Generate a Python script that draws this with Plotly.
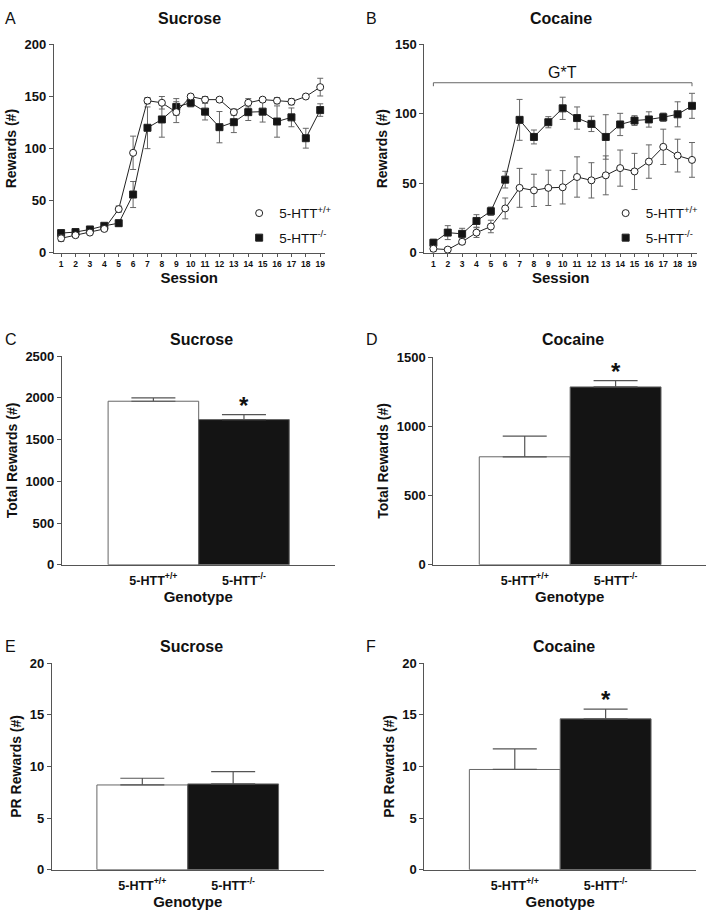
import plotly.graph_objects as go

W, H = 709, 917

sessions = list(range(1, 20))
suc_wt = [14, 17, 19.5, 23, 42, 96, 146, 144, 135, 150, 147, 147, 135, 144, 147, 146, 145, 150, 159]
suc_wt_err = [3, 2, 2, 2, 3, 16, 3, 6, 10, 2, 3, 2, 3, 4, 2, 3, 3, 2, 8.5]
suc_ko = [19, 20, 22.5, 26, 28.5, 56, 120, 128, 140, 144, 135.5, 120.6, 125.4, 135, 135.5, 126, 130, 110, 137]
suc_ko_err = [3, 2, 2, 2, 3, 12.5, 20, 17, 8, 4, 8, 15, 10, 8, 10, 15, 9, 9.5, 6]

coc_wt = [3, 2.4, 8, 14.6, 19, 32, 46.8, 45, 46.8, 47.2, 54.6, 52.2, 55.8, 61, 58.6, 65.7, 76.3, 70, 66.9]
coc_wt_err = [2, 1.5, 2, 3.5, 4.5, 7.5, 14, 11.6, 12.7, 12, 14.5, 12.7, 14, 13, 13, 12, 12.7, 11.8, 12.5]
coc_ko = [7.3, 14.6, 13.7, 23, 30, 52.7, 95.7, 83.4, 94, 104, 97, 92.8, 83.4, 92.4, 95.2, 96, 97.6, 99.7, 105.8]
coc_ko_err = [2.5, 5, 4, 4.5, 3, 6, 14.7, 5, 4, 8, 8, 5.5, 16, 8, 3.5, 5.5, 3, 9, 9]

genotypes = ["5-HTT<sup>+/+</sup>", "5-HTT<sup>-/-</sup>"]
tot_suc = [1960, 1740]
tot_suc_err = [40, 60]
tot_coc = [780, 1285]
tot_coc_err = [150, 45]
pr_suc = [8.2, 8.3]
pr_suc_err = [0.65, 1.2]
pr_coc = [9.7, 14.6]
pr_coc_err = [2.0, 0.95]
signif = {"C": [False, True], "D": [False, True], "E": [False, False], "F": [False, True]}

FONT = "Arial, Liberation Sans, sans-serif"
AX = "#555555"
DARK = "#222222"
BLACK = "#141414"

fig = go.Figure()


def dx(a, b):
    return [a / W, b / W]


def dy(top, bottom):
    return [1 - bottom / H, 1 - top / H]


def axis_common(**kw):
    d = dict(showgrid=False, zeroline=False, showline=True, linecolor=AX, linewidth=1,
             ticks="outside", tickcolor=AX, ticklen=4, tickwidth=1)
    d.update(kw)
    return d


layout = dict(width=W, height=H, paper_bgcolor="white", plot_bgcolor="white",
              margin=dict(l=0, r=0, t=0, b=0), showlegend=True,
              font=dict(family=FONT, color="#111111"))
annotations = []
shapes = []

# ---------- Line panels ----------
line_panels = [
    ("A", "Sucrose", 1, dx(54, 325), dy(38, 250), [0.5, 19.3], [0, 200], [0, 50, 100, 150, 200],
     suc_wt, suc_wt_err, suc_ko, suc_ko_err, "legend", (257, 207), 3),
    ("B", "Cocaine", 2, dx(425, 698), dy(38, 250), [0.375, 19.35], [0, 150], [0, 50, 100, 150],
     coc_wt, coc_wt_err, coc_ko, coc_ko_err, "legend2", (624, 207), 365),
]
for (letter, title, i, xd, yd, xr, yr, yt, wt, wte, ko, koe, leg, lpos, lx) in line_panels:
    xa = "x" if i == 1 else f"x{i}"
    ya = "y" if i == 1 else f"y{i}"
    for vals, errs, sym, col in [(ko, koe, "square", BLACK), (wt, wte, "circle", "white")]:
        fig.add_trace(go.Scatter(
            x=sessions, y=vals, mode="lines+markers", xaxis=xa, yaxis=ya, showlegend=False,
            line=dict(color=DARK, width=1),
            marker=dict(symbol=sym, size=7, color=col, line=dict(color=DARK, width=1)),
            error_y=dict(type="data", array=errs, color="#666666", thickness=1, width=3)))
    for g, (name, sym, col) in enumerate([(genotypes[0], "circle", "white"), (genotypes[1], "square", BLACK)]):
        fig.add_trace(go.Scatter(
            x=[None], y=[None], mode="markers", name=name, legend=leg, legendgroup=f"{leg}_{g}",
            xaxis=xa, yaxis=ya,
            marker=dict(symbol=sym, size=7, color=col, line=dict(color=DARK, width=1))))
    layout[leg] = dict(x=(lpos[0] - 17.5) / W, y=1 - (lpos[1] - 13) / H, xanchor="left", yanchor="top",
                       bgcolor="rgba(0,0,0,0)", font=dict(size=13.5, family=FONT, color="#111"),
                       itemsizing="trace", tracegroupgap=4, itemwidth=30)
    kx = "xaxis" if i == 1 else f"xaxis{i}"
    ky = "yaxis" if i == 1 else f"yaxis{i}"
    layout[kx] = axis_common(domain=xd, range=xr, anchor=ya, tickvals=sessions, ticklen=3,
                             tickfont=dict(size=8.5, family=FONT, color="#111", weight="bold"),
                             title=dict(text="<b>Session</b>", font=dict(size=15, family=FONT), standoff=2))
    layout[ky] = axis_common(domain=yd, range=yr, anchor=xa, tickvals=yt,
                             tickfont=dict(size=13, family=FONT, color="#111", weight="bold"),
                             title=dict(text="<b>Rewards (#)</b>", font=dict(size=14, family=FONT), standoff=4))
    annotations.append(dict(text=f"<b>{title}</b>", xref="paper", yref="paper",
                            x=(xd[0] + xd[1]) / 2, y=1 - 12 / H, xanchor="center", yanchor="middle",
                            showarrow=False, font=dict(size=16, family=FONT, color="#111")))
    annotations.append(dict(text=letter, xref="paper", yref="paper", x=lx / W, y=1 - 12 / H,
                            xanchor="left", yanchor="middle",
                            showarrow=False, font=dict(size=16, family=FONT, color="#111")))

# G*T bracket in panel B
gt_y = 122.4
shapes.append(dict(type="line", xref="x2", yref="y2", x0=sessions[0], x1=sessions[-1], y0=gt_y, y1=gt_y,
                   line=dict(color="#666", width=1)))
for sx in (sessions[0], sessions[-1]):
    shapes.append(dict(type="line", xref="x2", yref="y2", x0=sx, x1=sx, y0=gt_y, y1=gt_y - 2.5,
                       line=dict(color="#666", width=1)))
annotations.append(dict(text="G*T", xref="x2", yref="y2", x=10, y=gt_y, yanchor="bottom",
                        showarrow=False, font=dict(size=16, family=FONT, color="#111"), yshift=0))

# ---------- Bar panels ----------
bar_panels = [
    ("C", "Sucrose", 3, dx(62, 335), dy(355, 567), [-1.01, 2.0], [0, 2500], [0, 500, 1000, 1500, 2000, 2500],
     tot_suc, tot_suc_err, "Total Rewards (#)", 338),
    ("D", "Cocaine", 4, dx(434, 707), dy(356, 567), [-1.005, 1.995], [0, 1500], [0, 500, 1000, 1500],
     tot_coc, tot_coc_err, "Total Rewards (#)", 338),
    ("E", "Sucrose", 5, dx(52, 324), dy(667, 877), [-0.995, 1.995], [0, 20], [0, 5, 10, 15, 20],
     pr_suc, pr_suc_err, "PR Rewards (#)", 650),
    ("F", "Cocaine", 6, dx(425, 697), dy(667, 877), [-0.995, 1.995], [0, 20], [0, 5, 10, 15, 20],
     pr_coc, pr_coc_err, "PR Rewards (#)", 650),
]
for (letter, title, i, xd, yd, xr, yr, yt, vals, errs, ytitle, ty) in bar_panels:
    xa, ya = f"x{i}", f"y{i}"
    fig.add_trace(go.Bar(
        x=[0, 1], y=vals, width=1, xaxis=xa, yaxis=ya, showlegend=False,
        marker=dict(color=["white", BLACK], line=dict(color="#666666", width=1)),
        error_y=dict(type="data", symmetric=False, array=errs, arrayminus=[0, 0],
                     color="#555555", thickness=1.2, width=22)))
    layout[f"xaxis{i}"] = axis_common(domain=xd, range=xr, anchor=ya, tickvals=[0, 1], ticktext=genotypes,
                                      ticks="", ticklabelstandoff=4,
                                      tickfont=dict(size=12.5, family=FONT, color="#111", weight="bold"),
                                      title=dict(text="<b>Genotype</b>", font=dict(size=15, family=FONT), standoff=0))
    layout[f"yaxis{i}"] = axis_common(domain=yd, range=yr, anchor=xa, tickvals=yt,
                                      tickfont=dict(size=13, family=FONT, color="#111", weight="bold"),
                                      title=dict(text=f"<b>{ytitle}</b>", font=dict(size=14, family=FONT), standoff=4))
    annotations.append(dict(text=f"<b>{title}</b>", xref="paper", yref="paper",
                            x=(xd[0] + xd[1]) / 2 + 0.005, y=1 - ty / H, xanchor="center", yanchor="middle",
                            showarrow=False, font=dict(size=16, family=FONT, color="#111")))
    lx = 3 if i % 2 == 1 else 365
    annotations.append(dict(text=letter, xref="paper", yref="paper", x=lx / W, y=1 - ty / H,
                            xanchor="left", yanchor="middle",
                            showarrow=False, font=dict(size=16, family=FONT, color="#111")))
    for k, s in enumerate(signif[letter]):
        if s:
            annotations.append(dict(text="<b>*</b>", xref=xa, yref=ya, x=k, y=vals[k] + errs[k],
                                    yanchor="bottom", showarrow=False, yshift=-6,
                                    font=dict(size=24, family=FONT, color="#111")))

layout["annotations"] = annotations
layout["shapes"] = shapes
fig.update_layout(**layout)
fig.write_html("out.html", config={"displayModeBar": False},
               post_script="document.body.style.margin='0';document.body.style.overflow='hidden';")
